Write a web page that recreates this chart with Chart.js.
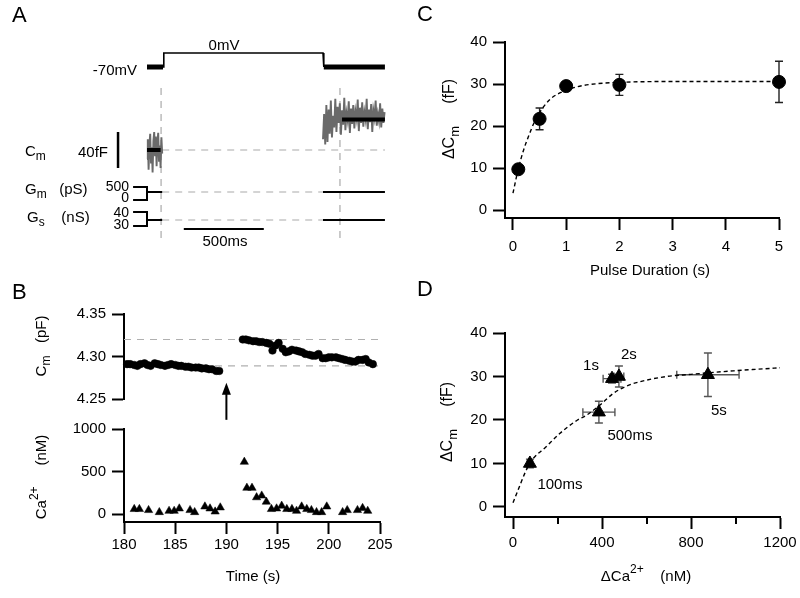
<!DOCTYPE html>
<html>
<head>
<meta charset="UTF-8">
<title>Cm / Ca2+ figure</title>
<script src="https://cdn.jsdelivr.net/npm/chart.js@4.4.0/dist/chart.umd.min.js"></script>
<style>
  body { margin: 0; background: #fff; }
  #wrap { position: relative; width: 800px; height: 598px; }
  #wrap canvas { position: absolute; left: 0; top: 0; }
</style>
</head>
<body>
<div id="wrap">
  <canvas id="chartA" width="800" height="598"></canvas>
  <canvas id="chartB1" width="800" height="598"></canvas>
  <canvas id="chartB2" width="800" height="598"></canvas>
  <canvas id="chartC" width="800" height="598"></canvas>
  <canvas id="chartD" width="800" height="598"></canvas>
</div>
<script>
// ---------- data ----------
// A: protocol (ms) and traces
const stepEdges = [-100, 0, 1000, 1387];   // trace start, pulse on, pulse off, trace end
const holdMv = -70, pulseMv = 0;
const cmPreStart = -100, cmPreDt = 5;
const cmPre = [-10, 12, -22, 6, 18, -14, 3, -25, 10, 20, -6, 15, -18, 8, 19, -12, 5, -20, 14, -4];
const cmPostStart = 1000, cmPostDt = 7;
const cmPost = [12, 40, 6, 50, 9, 45, 18, 55, 14, 38, 25, 57, 20, 48, 30, 52, 17, 44, 28, 58,
                22, 41, 33, 54, 19, 46, 29, 50, 24, 43, 35, 56, 21, 47, 30, 53, 26, 42, 34, 57,
                23, 45, 31, 51, 20, 44, 36, 55, 27, 40, 32, 52, 25, 46, 30, 42];
const cmPreMean = 0, cmPostMean = 34;      // fF
const gmLevel = 308;                       // pS
const gsLevel = 34.3;                      // nS
const markerTimes = [-12, 1106];

// B: Cm (pF) and Ca2+ (nM) vs time (s)
const cmTimes = [180.3, 180.6, 181.0, 181.3, 181.6, 182.0, 182.3, 182.6, 183.0, 183.3, 183.6, 184.0, 184.3, 184.6,
  185.0, 185.3, 185.6, 186.0, 186.3, 186.6, 187.0, 187.3, 187.6, 188.0, 188.3, 188.6, 189.0, 189.3,
  191.6, 191.9, 192.2, 192.6, 192.9, 193.2, 193.5, 193.9, 194.2, 194.5, 194.8, 195.1, 195.5, 195.8,
  196.1, 196.4, 196.8, 197.1, 197.4, 197.7, 198.1, 198.4, 198.7, 199.0, 199.4, 199.7, 200.0, 200.3,
  200.7, 201.0, 201.3, 201.6, 202.0, 202.3, 202.6, 202.9, 203.3, 203.6, 203.9, 204.3];
const cmValues = [4.291, 4.291, 4.290, 4.289, 4.291, 4.292, 4.290, 4.289, 4.292, 4.291, 4.290, 4.289, 4.290, 4.291,
  4.290, 4.289, 4.289, 4.288, 4.288, 4.287, 4.287, 4.287, 4.286, 4.286, 4.285, 4.285, 4.283, 4.283,
  4.320, 4.320, 4.319, 4.318, 4.318, 4.317, 4.317, 4.316, 4.315, 4.307, 4.313, 4.316, 4.309, 4.305,
  4.306, 4.308, 4.307, 4.306, 4.305, 4.303, 4.302, 4.301, 4.301, 4.303, 4.298, 4.298, 4.299, 4.299,
  4.299, 4.298, 4.297, 4.296, 4.295, 4.294, 4.294, 4.296, 4.296, 4.297, 4.293, 4.291];
const cmRefLevels = [4.320, 4.289];
const caTimes = [181.0, 181.5, 182.4, 183.45, 184.4, 184.9, 185.4, 186.45, 186.9, 187.9, 188.4, 188.9, 189.4,
  191.75, 192.0, 192.5, 192.95, 193.45, 193.9, 194.4, 194.9, 195.4, 195.9, 196.4, 196.85, 197.35,
  197.85, 198.3, 198.8, 199.3, 199.8, 201.35, 201.8, 202.8, 203.3, 203.8];
const caValues = [60, 60, 48, 24, 39, 39, 67, 48, 24, 90, 67, 31, 79,
  614, 309, 309, 198, 218, 146, 60, 67, 99, 60, 60, 39, 90,
  60, 48, 24, 24, 90, 24, 48, 48, 72, 39];
const pulseTime = 190;

// C: dCm vs pulse duration
const pulseDur = [0.1, 0.5, 1, 2, 5];
const dCm = [9.7, 21.7, 29.5, 29.8, 30.5];
const dCmErr = [1.0, 2.6, 1.0, 2.5, 4.9];
const fitDur = [0, 0.1, 0.2, 0.3, 0.4, 0.5, 0.7, 1.0, 1.3, 1.6, 2.0, 3.0, 4.0, 5.0];
const fitDurCm = [4.0, 9.8, 14.3, 17.8, 20.9, 23.2, 26.4, 28.5, 29.6, 30.1, 30.4, 30.6, 30.6, 30.6];

// D: dCm vs dCa2+
const pulseNames = ['100ms', '500ms', '1s', '2s', '5s'];
const dCa = [76, 386, 445, 476, 876];
const dCaErr = [12, 72, 40, 22, 140];
const dCmD = [10.0, 21.8, 29.5, 30.0, 30.4];
const dCmDErr = [1.0, 2.5, 1.0, 2.4, 5.0];
const fitCa = [0, 75, 150, 210, 290, 330, 390, 450, 510, 570, 690, 800, 990, 1200];
const fitCaCm = [1.0, 10.0, 13.9, 16.9, 20.0, 21.1, 23.4, 26.1, 27.8, 28.8, 30.0, 30.5, 31.3, 32.0];

// ---------- helpers ----------
const FONT = '"Liberation Sans", Arial, Helvetica, sans-serif';
Chart.defaults.font.family = FONT;
Chart.defaults.font.size = 15;
Chart.defaults.color = '#000';
const W = 800, H = 598;

function pad(area, yw, xh) {
  return { left: area.l - yw, top: area.t, right: W - area.r, bottom: H - area.b - xh };
}

function axis(pos, min, max, ticks, size, tickPad, fmt) {
  const isY = pos === 'left';
  return {
    type: 'linear', position: pos, min: min, max: max,
    afterBuildTicks: s => { s.ticks = ticks.map(v => ({ value: v })); },
    afterFit: s => {
      if (isY) { s.width = size; s.paddingTop = 0; s.paddingBottom = 0; }
      else { s.height = size; s.paddingLeft = 0; s.paddingRight = 0; }
    },
    border: { display: true, color: '#000', width: 2 },
    grid: { display: true, drawOnChartArea: false, drawTicks: true, tickLength: 12, tickWidth: 2, tickColor: '#000' },
    ticks: { padding: tickPad, autoSkip: false, maxRotation: 0, color: '#000', font: { size: 15 },
             callback: fmt || (v => String(v)) }
  };
}

function seg(points, yAxisID, color, width, dash) {
  return { data: points, yAxisID: yAxisID, borderColor: color, borderWidth: width, borderDash: dash || [],
           pointRadius: 0, fill: false, tension: 0, clip: false };
}

// Chart.js paints dataset 0 last; list datasets bottom-to-top and flip them
function stackOrder(list) { return list.slice().reverse(); }

function drawText(ctx, it) {
  ctx.save();
  ctx.translate(it.x, it.y);
  if (it.rot) ctx.rotate(-Math.PI / 2);
  ctx.fillStyle = '#000';
  ctx.textBaseline = 'middle';
  ctx.textAlign = 'left';
  const parts = it.parts.map(p => typeof p === 'string' ? { t: p } : p);
  let w = 0;
  parts.forEach(p => { ctx.font = (p.size || it.size || 15) + 'px ' + FONT; p.w = ctx.measureText(p.t).width; w += p.w; });
  let x = it.align === 'left' ? 0 : it.align === 'right' ? -w : -w / 2;
  parts.forEach(p => { ctx.font = (p.size || it.size || 15) + 'px ' + FONT; ctx.fillText(p.t, x, p.dy || 0); x += p.w; });
  ctx.restore();
}

function textPlugin(items, extra) {
  return {
    id: 'texts',
    afterDraw(chart) {
      items.forEach(it => drawText(chart.ctx, it));
      if (extra) extra(chart);
    }
  };
}

function errorBars(xs, ys, xErr, yErr, color, cap) {
  return {
    id: 'errorBars',
    beforeDatasetsDraw(chart) {
      const { ctx, scales: { x, y } } = chart;
      ctx.save();
      ctx.strokeStyle = color;
      ctx.lineWidth = 1.4;
      xs.forEach((xv, i) => {
        const px = x.getPixelForValue(xv), py = y.getPixelForValue(ys[i]);
        ctx.beginPath();
        if (yErr) {
          const t = y.getPixelForValue(ys[i] + yErr[i]), b = y.getPixelForValue(ys[i] - yErr[i]);
          ctx.moveTo(px, t); ctx.lineTo(px, b);
          ctx.moveTo(px - cap, t); ctx.lineTo(px + cap, t);
          ctx.moveTo(px - cap, b); ctx.lineTo(px + cap, b);
        }
        if (xErr) {
          const l = x.getPixelForValue(xv - xErr[i]), r = x.getPixelForValue(xv + xErr[i]);
          ctx.moveTo(l, py); ctx.lineTo(r, py);
          ctx.moveTo(l, py - cap); ctx.lineTo(l, py + cap);
          ctx.moveTo(r, py - cap); ctx.lineTo(r, py + cap);
        }
        ctx.stroke();
      });
      ctx.restore();
    }
  };
}

const common = { responsive: false, animation: false, events: [], devicePixelRatio: 1,
                 plugins: { legend: { display: false }, tooltip: { enabled: false } } };

// ---------- A ----------
(function () {
  const area = { l: 99, r: 403, t: 40, b: 249 };
  const pre = cmPre.map((v, i) => ({ x: cmPreStart + i * cmPreDt, y: v }));
  const post = cmPost.map((v, i) => ({ x: cmPostStart + i * cmPostDt, y: v }));
  const [t0, tOn, tOff, tEnd] = stepEdges;
  const gray = '#aaaaaa', dash = [7, 6];
  const datasets = [
    seg([{ x: markerTimes[0], y: 69 }, { x: markerTimes[0], y: -103 }], 'yC', gray, 1.2, dash),
    seg([{ x: markerTimes[1], y: 69 }, { x: markerTimes[1], y: -103 }], 'yC', gray, 1.2, dash),
    seg([{ x: -5, y: cmPreMean }, { x: tEnd, y: cmPreMean }], 'yC', gray, 1.2, dash),
    seg([{ x: -5, y: gmLevel }, { x: tEnd, y: gmLevel }], 'yG', gray, 1.2, dash),
    seg([{ x: -5, y: gsLevel }, { x: tEnd, y: gsLevel }], 'yS', gray, 1.2, dash),
    // voltage
    seg([{ x: t0, y: holdMv }, { x: tOn, y: holdMv }], 'yV', '#000', 5),
    seg([{ x: tOn, y: holdMv }, { x: tOn + 5, y: pulseMv }, { x: tOff, y: pulseMv }, { x: tOff + 5, y: holdMv }], 'yV', '#000', 1.6),
    seg([{ x: tOff + 5, y: holdMv }, { x: tEnd, y: holdMv }], 'yV', '#000', 5),
    // Cm
    seg(pre, 'yC', '#6a6a6a', 1.9),
    seg(post, 'yC', '#6a6a6a', 1.9),
    seg([{ x: t0, y: cmPreMean }, { x: -15, y: cmPreMean }], 'yC', '#000', 4),
    seg([{ x: 1119, y: cmPostMean }, { x: tEnd, y: cmPostMean }], 'yC', '#000', 4),
    // Gm, Gs
    seg([{ x: t0, y: gmLevel }, { x: -5, y: gmLevel }], 'yG', '#000', 2),
    seg([{ x: tOff, y: gmLevel }, { x: tEnd, y: gmLevel }], 'yG', '#000', 2),
    seg([{ x: t0, y: gsLevel }, { x: -5, y: gsLevel }], 'yS', '#000', 2),
    seg([{ x: tOff, y: gsLevel }, { x: tEnd, y: gsLevel }], 'yS', '#000', 2),
    // scale brackets and bars
    seg([{ x: -187, y: 500 }, { x: t0, y: 500 }, { x: t0, y: 0 }, { x: -187, y: 0 }], 'yG', '#000', 2),
    seg([{ x: -187, y: 40 }, { x: t0, y: 40 }, { x: t0, y: 30 }, { x: -187, y: 30 }], 'yS', '#000', 2),
    seg([{ x: -281, y: -20 }, { x: -281, y: 20 }], 'yC', '#000', 2.5),
    seg([{ x: 130, y: 27.86 }, { x: 630, y: 27.86 }], 'yS', '#000', 2)
  ];
  const texts = [
    { x: 12, y: 16, align: 'left', parts: [{ t: 'A', size: 22 }] },
    { x: 224, y: 46, parts: ['0mV'] },
    { x: 137, y: 71, align: 'right', parts: ['-70mV'] },
    { x: 25, y: 152, align: 'left', parts: ['C', { t: 'm', size: 12, dy: 5 }] },
    { x: 108, y: 153, align: 'right', parts: ['40fF'] },
    { x: 25, y: 190, align: 'left', parts: ['G', { t: 'm', size: 12, dy: 5 }, '   (pS)'] },
    { x: 27, y: 218, align: 'left', parts: ['G', { t: 's', size: 12, dy: 5 }, '    (nS)'] },
    { x: 129, y: 187, align: 'right', size: 14, parts: ['500'] },
    { x: 129, y: 198, align: 'right', size: 14, parts: ['0'] },
    { x: 129, y: 213, align: 'right', size: 14, parts: ['40'] },
    { x: 129, y: 225, align: 'right', size: 14, parts: ['30'] },
    { x: 225, y: 242, parts: ['500ms'] }
  ];
  new Chart(document.getElementById('chartA'), {
    type: 'line',
    data: { datasets: stackOrder(datasets) },
    options: Object.assign({}, common, {
      layout: { padding: pad(area, 0, 0) },
      scales: {
        x: { type: 'linear', display: false, min: -400, max: 1500 },
        yV: { type: 'linear', display: false, min: -980, max: 65 },
        yC: { type: 'linear', display: false, min: -110, max: 122.2 },
        yG: { type: 'linear', display: false, min: -1884.6, max: 6153.8 },
        yS: { type: 'linear', display: false, min: 13.57, max: 162.86 }
      }
    }),
    plugins: [textPlugin(texts)]
  });
})();

// ---------- B top: Cm ----------
(function () {
  const area = { l: 124, r: 380, t: 314, b: 399 };
  const pts = cmTimes.map((t, i) => ({ x: t, y: cmValues[i] }));
  const refs = cmRefLevels.map(v => seg([{ x: 180, y: v }, { x: 205, y: v }], 'y', '#b0b0b0', 1.2, [7, 6]));
  const texts = [
    { x: 12, y: 293, align: 'left', parts: [{ t: 'B', size: 22 }] },
    { x: 42, y: 346, rot: true, parts: ['C', { t: 'm', size: 12, dy: 5 }, '   (pF)'] }
  ];
  const arrow = chart => {
    const { ctx, scales: { x, y } } = chart;
    const px = x.getPixelForValue(pulseTime);
    const tip = y.getPixelForValue(4.269), tail = y.getPixelForValue(4.2255);
    ctx.save();
    ctx.strokeStyle = '#000'; ctx.fillStyle = '#000'; ctx.lineWidth = 2;
    ctx.beginPath(); ctx.moveTo(px, tail); ctx.lineTo(px, tip + 8); ctx.stroke();
    ctx.beginPath(); ctx.moveTo(px, tip); ctx.lineTo(px - 4.5, tip + 12); ctx.lineTo(px + 4.5, tip + 12); ctx.closePath(); ctx.fill();
    ctx.restore();
  };
  new Chart(document.getElementById('chartB1'), {
    type: 'line',
    data: {
      datasets: stackOrder(refs.concat([{
        data: pts, showLine: false, pointRadius: 3.8, pointBackgroundColor: '#000', pointBorderColor: '#000',
        pointBorderWidth: 0.5, clip: false
      }]))
    },
    options: Object.assign({}, common, {
      layout: { padding: pad(area, 80, 0) },
      scales: {
        x: { type: 'linear', display: false, min: 180, max: 205 },
        y: axis('left', 4.25, 4.35, [4.25, 4.30, 4.35], 80, 6, v => v.toFixed(2))
      }
    }),
    plugins: [textPlugin(texts, arrow)]
  });
})();

// ---------- B bottom: Ca2+ ----------
(function () {
  const area = { l: 124, r: 380, t: 429, b: 522 };
  const pts = caTimes.map((t, i) => ({ x: t, y: caValues[i] }));
  const texts = [
    { x: 42, y: 477, rot: true, parts: ['Ca', { t: '2+', size: 12, dy: -7 }, '     (nM)'] },
    { x: 253, y: 577, parts: ['Time (s)'] }
  ];
  new Chart(document.getElementById('chartB2'), {
    type: 'line',
    data: {
      datasets: [{
        data: pts, showLine: false, pointStyle: 'triangle', pointRadius: 4.8, pointBackgroundColor: '#000',
        pointBorderColor: '#000', pointBorderWidth: 0.5, clip: false
      }]
    },
    options: Object.assign({}, common, {
      layout: { padding: pad(area, 80, 60) },
      scales: {
        x: axis('bottom', 180, 205, [180, 185, 190, 195, 200, 205], 60, 2),
        y: axis('left', -90.6, 1000, [0, 500, 1000], 80, 6)
      }
    }),
    plugins: [textPlugin(texts)]
  });
})();

// ---------- C ----------
(function () {
  const area = { l: 505, r: 779, t: 42, b: 218 };
  const pts = pulseDur.map((d, i) => ({ x: d, y: dCm[i] }));
  const fit = fitDur.map((d, i) => ({ x: d, y: fitDurCm[i] }));
  const texts = [
    { x: 417, y: 15, align: 'left', parts: [{ t: 'C', size: 22 }] },
    { x: 450, y: 119, rot: true, size: 16, parts: ['\u0394C', { t: 'm', size: 13, dy: 5 }, '     (fF)'] },
    { x: 650, y: 271, parts: ['Pulse Duration (s)'] }
  ];
  new Chart(document.getElementById('chartC'), {
    type: 'line',
    data: {
      datasets: stackOrder([
        { data: fit, borderColor: '#000', borderWidth: 1.4, borderDash: [4, 3], pointRadius: 0,
          cubicInterpolationMode: 'monotone', clip: false },
        { data: pts, showLine: false, pointRadius: 6.5, pointBackgroundColor: '#000', pointBorderColor: '#000', clip: false }
      ])
    },
    options: Object.assign({}, common, {
      layout: { padding: pad(area, 60, 60) },
      scales: {
        x: axis('bottom', -0.15, 5, [0, 1, 2, 3, 4, 5], 60, 8),
        y: axis('left', -1.9, 40, [0, 10, 20, 30, 40], 60, 6)
      }
    }),
    plugins: [errorBars(pulseDur, dCm, null, dCmErr, '#222', 4), textPlugin(texts)]
  });
})();

// ---------- D ----------
(function () {
  const area = { l: 505, r: 780, t: 333, b: 517 };
  const pts = dCa.map((c, i) => ({ x: c, y: dCmD[i] }));
  const fit = fitCa.map((c, i) => ({ x: c, y: fitCaCm[i] }));
  const labelOffsets = [[30, 21], [31, 24], [-21, -13], [10, -22], [11, 36]];
  const minorTicks = [200, 600, 1000];
  const texts = [
    { x: 417, y: 290, align: 'left', parts: [{ t: 'D', size: 22 }] },
    { x: 448, y: 422, rot: true, size: 16, parts: ['\u0394C', { t: 'm', size: 13, dy: 5 }, '     (fF)'] },
    { x: 646, y: 577, parts: ['\u0394Ca', { t: '2+', size: 12, dy: -7 }, '    (nM)'] }
  ];
  const extra = chart => {
    const { ctx, scales: { x, y }, chartArea } = chart;
    pulseNames.forEach((n, i) => {
      drawText(ctx, { x: x.getPixelForValue(dCa[i]) + labelOffsets[i][0], y: y.getPixelForValue(dCmD[i]) + labelOffsets[i][1], parts: [n] });
    });
    ctx.save();
    ctx.strokeStyle = '#000'; ctx.lineWidth = 2;
    minorTicks.forEach(v => {
      const px = Math.round(x.getPixelForValue(v));
      ctx.beginPath(); ctx.moveTo(px, chartArea.bottom); ctx.lineTo(px, chartArea.bottom + 7); ctx.stroke();
    });
    ctx.restore();
  };
  new Chart(document.getElementById('chartD'), {
    type: 'line',
    data: {
      datasets: stackOrder([
        { data: fit, borderColor: '#000', borderWidth: 1.4, borderDash: [4, 3], pointRadius: 0,
          cubicInterpolationMode: 'monotone', clip: false },
        { data: pts, showLine: false, pointStyle: 'triangle', pointRadius: 7.5, pointBackgroundColor: '#000',
          pointBorderColor: '#000', clip: false }
      ])
    },
    options: Object.assign({}, common, {
      layout: { padding: pad(area, 60, 60) },
      scales: {
        x: axis('bottom', -36, 1200, [0, 400, 800, 1200], 60, 5),
        y: axis('left', -2.3, 40, [0, 10, 20, 30, 40], 60, 6)
      }
    }),
    plugins: [errorBars(dCa, dCmD, dCaErr, dCmDErr, '#555', 4), textPlugin(texts, extra)]
  });
})();
</script>
</body>
</html>
